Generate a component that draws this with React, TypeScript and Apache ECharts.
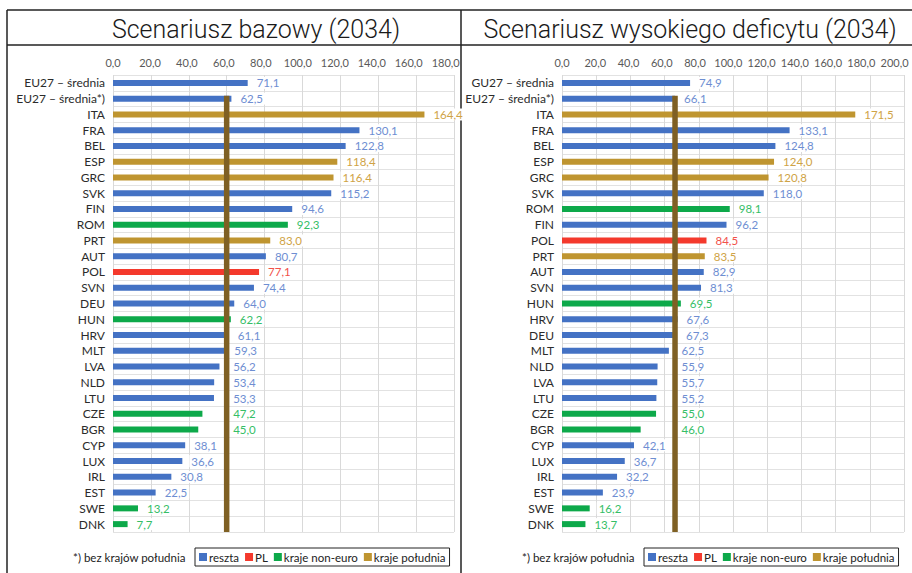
import React, { useEffect, useRef } from 'react';
import * as echarts from 'echarts';

const LEFT_TITLE = 'Scenariusz bazowy (2034)';
const RIGHT_TITLE = 'Scenariusz wysokiego deficytu (2034)';
const FOOTNOTE = '*) bez krajów południa';

const GROUP_KEYS = ['b', 'r', 'g', 's'];
const GROUP_NAMES = ['reszta', 'PL', 'kraje non-euro', 'kraje południa'];

const leftCategories = [
  'EU27 – średnia', 'EU27 – średnia*)', 'ITA', 'FRA', 'BEL', 'ESP', 'GRC', 'SVK', 'FIN', 'ROM',
  'PRT', 'AUT', 'POL', 'SVN', 'DEU', 'HUN', 'HRV', 'MLT', 'LVA', 'NLD', 'LTU', 'CZE', 'BGR',
  'CYP', 'LUX', 'IRL', 'EST', 'SWE', 'DNK',
];
const leftValues = [
  71.1, 62.5, 164.4, 130.1, 122.8, 118.4, 116.4, 115.2, 94.6, 92.3,
  83.0, 80.7, 77.1, 74.4, 64.0, 62.2, 61.1, 59.3, 56.2, 53.4, 53.3, 47.2, 45.0,
  38.1, 36.6, 30.8, 22.5, 13.2, 7.7,
];
const leftGroups = [
  'b', 'b', 's', 'b', 'b', 's', 's', 'b', 'b', 'g',
  's', 'b', 'r', 'b', 'b', 'g', 'b', 'b', 'b', 'b', 'b', 'g', 'g',
  'b', 'b', 'b', 'b', 'g', 'g',
];
const leftThreshold = 60;
const leftAxisMax = 180;

const rightCategories = [
  'GU27 – średnia', 'EU27 – średnia*)', 'ITA', 'FRA', 'BEL', 'ESP', 'GRC', 'SVK', 'ROM', 'FIN',
  'POL', 'PRT', 'AUT', 'SVN', 'HUN', 'HRV', 'DEU', 'MLT', 'NLD', 'LVA', 'LTU', 'CZE', 'BGR',
  'CYP', 'LUX', 'IRL', 'EST', 'SWE', 'DNK',
];
const rightValues = [
  74.9, 66.1, 171.5, 133.1, 124.8, 124.0, 120.8, 118.0, 98.1, 96.2,
  84.5, 83.5, 82.9, 81.3, 69.5, 67.6, 67.3, 62.5, 55.9, 55.7, 55.2, 55.0, 46.0,
  42.1, 36.7, 32.2, 23.9, 16.2, 13.7,
];
const rightGroups = [
  'b', 'b', 's', 'b', 'b', 's', 's', 'b', 'g', 'b',
  'r', 's', 'b', 'b', 'g', 'b', 'b', 'b', 'b', 'b', 'b', 'g', 'g',
  'b', 'b', 'b', 'b', 'g', 'g',
];
const rightThreshold = 66.1;
const rightAxisMax = 200;

const BAR_COLORS: Record<string, string> = { b: '#4472C4', r: '#F4392C', g: '#0DA94A', s: '#BF9530' };
const LABEL_COLORS: Record<string, string> = { b: '#6E8ED2', r: '#F2514A', g: '#35BE66', s: '#CFA346' };
const LINE_COLOR = '#7F6024';
const FONT = 'Lato, Roboto, "Noto Sans", sans-serif';
const TITLE_FONT = 'Roboto, "Noto Sans", sans-serif';

const fmt = (v: number) => v.toFixed(1).replace('.', ',');

function buildPanel(
  idx: number,
  cats: string[],
  vals: number[],
  groups: string[],
  threshold: number,
  axisMax: number,
  labelAxisMax: number,
  gridLeft: number,
  gridWidth: number,
) {
  const ppu = gridWidth / axisMax;
  const lineX = threshold * ppu;
  const distFor = (v: number, i: number) => {
    const base = 7;
    if (i === 0) return base;
    const barEnd = v * ppu;
    const start = barEnd + base;
    const lineL = lineX - 3.5;
    const lineR = lineX + 3.5;
    if (start < lineR + 1 && start + 24 > lineL) {
      return Math.max(base, lineR + 1 - barEnd);
    }
    return base;
  };
  const grid = { left: gridLeft, width: gridWidth, top: 75, height: 457, containLabel: false };
  const xAxes = [
    {
      gridIndex: idx, type: 'value', position: 'top', min: 0, max: axisMax, interval: 20,
      axisLabel: { show: false }, axisLine: { show: false }, axisTick: { show: false },
      splitLine: { show: true, lineStyle: { color: '#D9D9D9', width: 1 } },
    },
    {
      gridIndex: idx, type: 'value', position: 'top', min: 0, max: labelAxisMax, interval: 20,
      axisLine: { show: false }, axisTick: { show: false }, splitLine: { show: false },
      axisLabel: {
        show: true, margin: 7, fontSize: 11, color: '#595959', fontFamily: FONT,
        formatter: (v: number) => (v % 20 === 0 && v <= axisMax ? fmt(v) : ''),
      },
    },
  ];
  const yAxes = [
    {
      gridIndex: idx, type: 'category', inverse: true, data: cats,
      axisTick: { show: false }, axisLine: { show: false },
      axisLabel: { interval: 0, fontSize: 12, color: '#2b2b2b', margin: 8, fontFamily: FONT },
      splitLine: { show: true, interval: 0, lineStyle: { color: '#E2E2E2', width: 1 } },
    },
    { gridIndex: idx, type: 'value', inverse: true, min: 0, max: cats.length, show: false },
  ];
  const xBase = idx * 2;
  const yBase = idx * 2;
  const series: any[] = GROUP_KEYS.map((k, gi) => ({
    name: GROUP_NAMES[gi],
    type: 'bar',
    stack: 'panel' + idx,
    xAxisIndex: xBase,
    yAxisIndex: yBase,
    barWidth: 6,
    itemStyle: { color: BAR_COLORS[k] },
    label: {
      show: true, position: 'right', fontSize: 11.5, fontFamily: FONT,
      color: LABEL_COLORS[k], backgroundColor: '#ffffff', padding: [0, 2],
      formatter: (p: any) => fmt(Number(p.value)),
    },
    data: vals.map((v, i) => (groups[i] === k ? { value: v, label: { distance: distFor(v, i) } } : '-')),
    z: 2,
  }));
  series.push({
    type: 'line',
    xAxisIndex: xBase,
    yAxisIndex: yBase + 1,
    data: [[threshold, 1.32], [threshold, cats.length]],
    symbol: 'none',
    silent: true,
    lineStyle: { color: LINE_COLOR, width: 5.5 },
    z: 5,
  });
  return { grid, xAxes, yAxes, series };
}

export default function App() {
  const ref = useRef<HTMLDivElement>(null);
  useEffect(() => {
    if (!ref.current) return;
    const chart = echarts.init(ref.current, undefined, { renderer: 'svg' });
    const left = buildPanel(0, leftCategories, leftValues, leftGroups, leftThreshold, leftAxisMax, 184.5, 113, 341);
    const right = buildPanel(1, rightCategories, rightValues, rightGroups, rightThreshold, rightAxisMax, 205.7, 562, 342);
    const legendBase = {
      data: GROUP_NAMES, orient: 'horizontal', top: 548, icon: 'rect', itemWidth: 8, itemHeight: 8,
      itemGap: 6, borderColor: '#222', borderWidth: 1, padding: [3, 4], selectedMode: false,
      textStyle: { fontSize: 11.5, color: '#222', fontFamily: FONT, padding: [0, 0, 0, -3] },
    };
    const lineStyle = { stroke: '#222', lineWidth: 1.5 };
    chart.setOption({
      animation: false,
      backgroundColor: '#ffffff',
      grid: [left.grid, right.grid],
      xAxis: [...left.xAxes, ...right.xAxes],
      yAxis: [...left.yAxes, ...right.yAxes],
      series: [...left.series, ...right.series],
      legend: [
        { ...legendBase, left: 195 },
        { ...legendBase, left: 644 },
      ],
      graphic: [
        { type: 'line', shape: { x1: 7, y1: 10, x2: 912, y2: 10 }, style: lineStyle, silent: true },
        { type: 'line', shape: { x1: 7, y1: 45, x2: 912, y2: 45 }, style: lineStyle, silent: true },
        { type: 'line', shape: { x1: 7, y1: 10, x2: 7, y2: 573 }, style: lineStyle, silent: true },
        { type: 'line', shape: { x1: 461, y1: 10, x2: 461, y2: 573 }, style: lineStyle, silent: true },
        {
          type: 'text', x: 256, y: 29,
          style: { text: LEFT_TITLE, fontSize: 25, fontWeight: 300, fontFamily: TITLE_FONT, fill: '#1a1a1a', align: 'center', verticalAlign: 'middle' },
        },
        {
          type: 'text', x: 690, y: 29,
          style: { text: RIGHT_TITLE, fontSize: 25, fontWeight: 300, fontFamily: TITLE_FONT, fill: '#1a1a1a', align: 'center', verticalAlign: 'middle' },
        },
        {
          type: 'text', x: 73, y: 557,
          style: { text: FOOTNOTE, fontSize: 11.5, fontFamily: FONT, fill: '#222', align: 'left', verticalAlign: 'middle' },
        },
        {
          type: 'text', x: 522, y: 557,
          style: { text: FOOTNOTE, fontSize: 11.5, fontFamily: FONT, fill: '#222', align: 'left', verticalAlign: 'middle' },
        },
      ],
    });
    return () => chart.dispose();
  }, []);
  return (
    <div
      ref={ref}
      style={{ position: 'fixed', left: 0, top: 0, width: 912, height: 573, background: '#fff' }}
    />
  );
}
